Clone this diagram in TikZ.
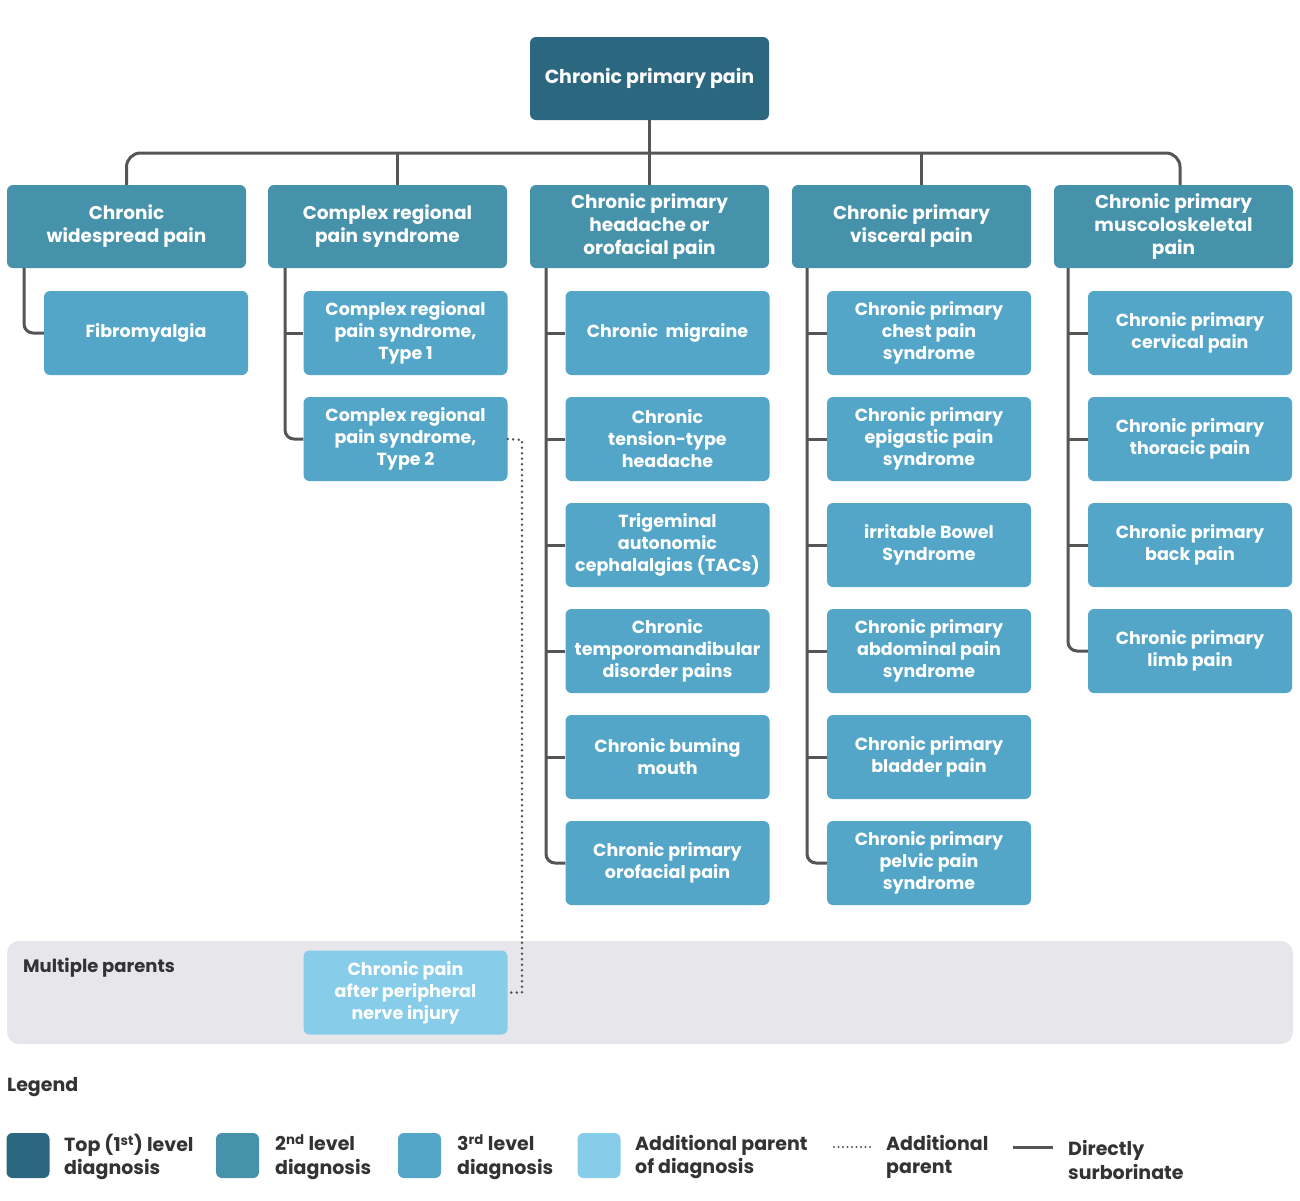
\documentclass[tikz,border=0pt]{standalone}
\usepackage{fontspec}
\setmainfont{Poppins}
\definecolor{ctop}{HTML}{2C6780}
\definecolor{ctwo}{HTML}{4592AA}
\definecolor{cthree}{HTML}{53A6C7}
\definecolor{cadd}{HTML}{87CCE8}
\definecolor{cline}{HTML}{555555}
\definecolor{cband}{HTML}{E6E6EB}
\definecolor{ctext}{HTML}{333333}
\begin{document}
\begin{tikzpicture}[x=1pt,y=-1pt,
  box/.style={rounded corners=6pt, inner sep=0pt, align=center, text=white,
    font=\fontsize{17.5}{22}\selectfont\bfseries},
  topbox/.style={box, fill=ctop, minimum width=239pt, minimum height=83pt,
    font=\fontsize{19}{23}\selectfont\bfseries},
  lvtwo/.style={box, fill=ctwo, minimum width=239pt, minimum height=83pt,
    font=\fontsize{18.5}{23}\selectfont\bfseries},
  lvthree/.style={box, fill=cthree, minimum width=204pt, minimum height=84pt},
  addbox/.style={box, fill=cadd, minimum width=204pt, minimum height=84pt},
  conn/.style={draw=cline, line width=3pt},
  dotconn/.style={draw=cline, line width=2.8pt, dash pattern=on 0pt off 5.5pt, line cap=round},
  lgsq/.style={rounded corners=6pt, minimum width=43pt, minimum height=45pt, inner sep=0pt},
  lgtext/.style={text=ctext, anchor=west, align=left, inner sep=0pt,
    font=\fontsize{19}{23.5}\selectfont\bfseries},
]
\useasboundingbox (0,0) rectangle (1300,1200);

% band
\fill[cband, rounded corners=12pt] (7,941) rectangle (1293,1044);
\node[lgtext, font=\fontsize{18}{21}\selectfont\bfseries] (mp) at (23,968) {Multiple parents};

% top
\node[topbox] (top) at (649.5,78.5) {Chronic primary pain};

% level 2
\node[lvtwo] (a1) at (126.5,226.5) {Chronic\\widespread pain};
\node[lvtwo] (a2) at (387.5,226.5) {Complex regional\\pain syndrome};
\node[lvtwo] (a3) at (649.5,226.5) {Chronic primary\\headache or\\orofacial pain};
\node[lvtwo] (a4) at (911.5,226.5) {Chronic primary\\visceral pain};
\node[lvtwo] (a5) at (1173.5,226.5) {Chronic primary\\muscoloskeletal\\pain};

% level 3, column 1
\node[lvthree] (f1) at (146,333) {Fibromyalgia};
% column 2
\node[lvthree] (c1) at (405.5,333) {Complex regional\\pain syndrome,\\Type 1};
\node[lvthree] (c2) at (405.5,439) {Complex regional\\pain syndrome,\\Type 2};
% column 3
\node[lvthree] (h1) at (667.5,333) {Chronic\ \ migraine};
\node[lvthree] (h2) at (667.5,439) {Chronic\\tension-type\\headache};
\node[lvthree] (h3) at (667.5,545) {Trigeminal\\autonomic\\cephalalgias (TACs)};
\node[lvthree] (h4) at (667.5,651) {Chronic\\temporomandibular\\disorder pains};
\node[lvthree] (h5) at (667.5,757) {Chronic buming\\mouth};
\node[lvthree] (h6) at (667.5,863) {Chronic primary\\orofacial pain};
% column 4
\node[lvthree] (v1) at (929,333) {Chronic primary\\chest pain\\syndrome};
\node[lvthree] (v2) at (929,439) {Chronic primary\\epigastic pain\\syndrome};
\node[lvthree] (v3) at (929,545) {irritable Bowel\\Syndrome};
\node[lvthree] (v4) at (929,651) {Chronic primary\\abdominal pain\\syndrome};
\node[lvthree] (v5) at (929,757) {Chronic primary\\bladder pain};
\node[lvthree] (v6) at (929,863) {Chronic primary\\pelvic pain\\syndrome};
% column 5
\node[lvthree] (m1) at (1190,333) {Chronic primary\\cervical pain};
\node[lvthree] (m2) at (1190,439) {Chronic primary\\thoracic pain};
\node[lvthree] (m3) at (1190,545) {Chronic primary\\back pain};
\node[lvthree] (m4) at (1190,651) {Chronic primary\\limb pain};

% additional parent
\node[addbox] (ext) at (405.5,992.5) {Chronic pain\\after peripheral\\nerve injury};

% bus
\coordinate (bus) at (650,153);
\coordinate (p2) at ([xshift=10pt]a2.north);
\coordinate (p4) at ([xshift=10pt]a4.north);
\coordinate (p5) at ([xshift=6.5pt]a5.north);
\draw[conn, rounded corners=14pt] (a1.north) |- (bus) -| (p5);
\draw[conn] (top.south) -- (a3.north);
\draw[conn] (p2) -- (p2 |- bus);
\draw[conn] (p4) -- (p4 |- bus);

% column connectors
\coordinate (s1) at (24,268);
\coordinate (s2) at (285,268);
\coordinate (s3) at (546,268);
\coordinate (s4) at (807,268);
\coordinate (s5) at (1068,268);
\draw[conn, rounded corners=9pt] (s1) |- (f1.west);
\draw[conn, rounded corners=9pt] (s2) |- (c2.west);
\draw[conn] (s2 |- c1.west) -- (c1.west);
\draw[conn, rounded corners=9pt] (s3) |- (h6.west);
\foreach \n in {h1,h2,h3,h4,h5} \draw[conn] (s3 |- \n.west) -- (\n.west);
\draw[conn, rounded corners=9pt] (s4) |- (v6.west);
\foreach \n in {v1,v2,v3,v4,v5} \draw[conn] (s4 |- \n.west) -- (\n.west);
\draw[conn, rounded corners=9pt] (s5) |- (m4.west);
\foreach \n in {m1,m2,m3} \draw[conn] (s5 |- \n.west) -- (\n.west);

% dotted additional parent
\coordinate (dd) at (522,440);
\draw[dotconn] (c2.east) -- (dd) -- (dd |- ext.east) -- (ext.east);

% legend
\node[lgtext] (lg) at (7,1087) {Legend};
\node[lgsq, fill=ctop] (q1) at (28,1155.5) {};
\node[lgtext] (t1) at (64,1157) {Top (1\textsuperscript{st}) level\\diagnosis};
\node[lgsq, fill=ctwo] (q2) at (237.5,1155.5) {};
\node[lgtext] (t2) at (275,1157) {2\textsuperscript{nd} level\\diagnosis};
\node[lgsq, fill=cthree] (q3) at (419.5,1155.5) {};
\node[lgtext] (t3) at (457,1157) {3\textsuperscript{rd} level\\diagnosis};
\node[lgsq, fill=cadd] (q4) at (599,1155.5) {};
\node[lgtext] (t4) at (635,1157) {Additional parent\\of diagnosis};
\coordinate (d1) at (834,1147);
\coordinate (d2) at (873,1147);
\draw[dotconn, line width=2.2pt, dash pattern=on 0pt off 4.5pt] (d1) -- (d2);
\node[lgtext] (t5) at (886,1157) {Additional\\parent};
\coordinate (e1) at (1013,1147);
\coordinate (e2) at (1053,1147);
\draw[conn] (e1) -- (e2);
\node[lgtext] (t6) at (1068,1160) {Directly\\surborinate};
\end{tikzpicture}
\end{document}
